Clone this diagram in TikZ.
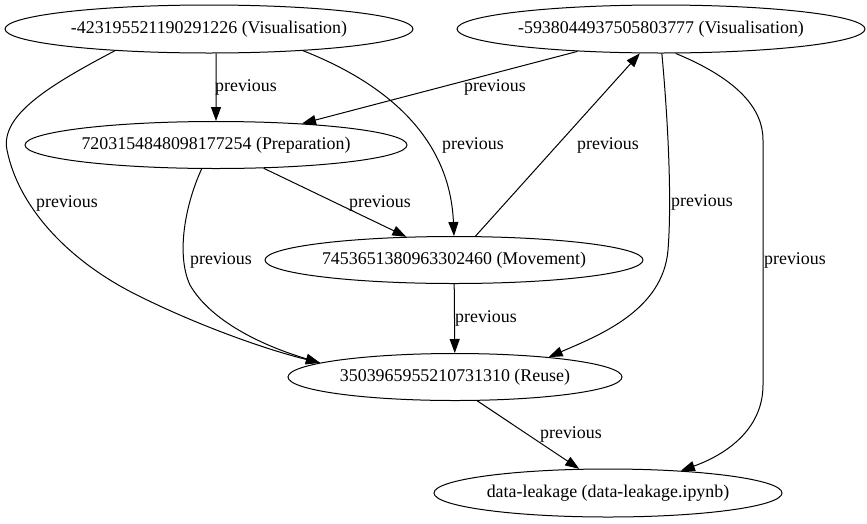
\documentclass[tikz,border=0pt]{standalone}
\usepackage{fontspec}
\setmainfont{Liberation Serif}
\usetikzlibrary{shapes.geometric,arrows.meta}

\begin{document}
\begin{tikzpicture}[
            x=1pt, y=-1pt,
            proc/.style={draw, ellipse, line width=1pt, inner sep=0pt, font=\fontsize{17.9}{20}\selectfont},
            lbl/.style={inner sep=0pt, font=\fontsize{17.9}{20}\selectfont},
            link/.style={line width=1pt, -{Triangle[length=14pt,width=10pt]}}
        ]
            \useasboundingbox (0,0) rectangle (867,523);

            \node[proc, minimum width=408pt, minimum height=48pt] (v1) at (209,29) {-423195521190291226 (Visualisation)};
            \node[proc, minimum width=408pt, minimum height=48pt] (v2) at (661,29) {-5938044937505803777 (Visualisation)};
            \node[proc, minimum width=382pt, minimum height=47pt] (prep) at (216,145) {7203154848098177254 (Preparation)};
            \node[proc, minimum width=378pt, minimum height=47pt] (move) at (454,260) {7453651380963302460 (Movement)};
            \node[proc, minimum width=334pt, minimum height=47pt] (reuse) at (455,377) {3503965955210731310 (Reuse)};
            \node[proc, minimum width=348pt, minimum height=48pt] (nb) at (608,493) {data-leakage (data-leakage.ipynb)};

            \node[lbl] (t1) at (246,87) {previous};
            \node[lbl] (t2) at (495,87) {previous};
            \node[lbl] (t3) at (473,145) {previous};
            \node[lbl] (t4) at (608,145) {previous};
            \node[lbl] (t5) at (67,203) {previous};
            \node[lbl] (t6) at (380,203) {previous};
            \node[lbl] (t7) at (702,202) {previous};
            \node[lbl] (t8) at (221,260) {previous};
            \node[lbl] (t9) at (795,260) {previous};
            \node[lbl] (t10) at (486,318) {previous};
            \node[lbl] (t11) at (571,434) {previous};

            \draw[link] (v1.-74) -- (prep.north);
            \draw[link] (v2.-165) -- (prep.14.5);
            \draw[link] (v1.-13) .. controls (390,85) and (450,140) .. (move.north);
            \draw[link] (move.48) -- (v2.-131);
            \draw[link] (v1.-167) .. controls (50,85) and (0,115) .. (7,150)
                .. controls (18,205) and (65,258) .. (133,293)
                .. controls (190,322) and (260,348) .. (reuse.174);
            \draw[link] (prep.-26) -- (move.154);
            \draw[link] (v2.-88) .. controls (668,120) and (672,200) .. (668,250)
                .. controls (663,310) and (600,335) .. (reuse.12);
            \draw[link] (prep.-121) .. controls (185,205) and (176,255) .. (190,285)
                .. controls (210,320) and (260,345) .. (reuse.174);
            \draw[link] (v2.-59) .. controls (740,80) and (763,110) .. (763,140)
                -- (763,385) .. controls (763,430) and (725,455) .. (nb.17);
            \draw[link] (move) -- (reuse);
            \draw[link] (reuse.-47) -- (nb.140);
        \end{tikzpicture}
\end{document}
